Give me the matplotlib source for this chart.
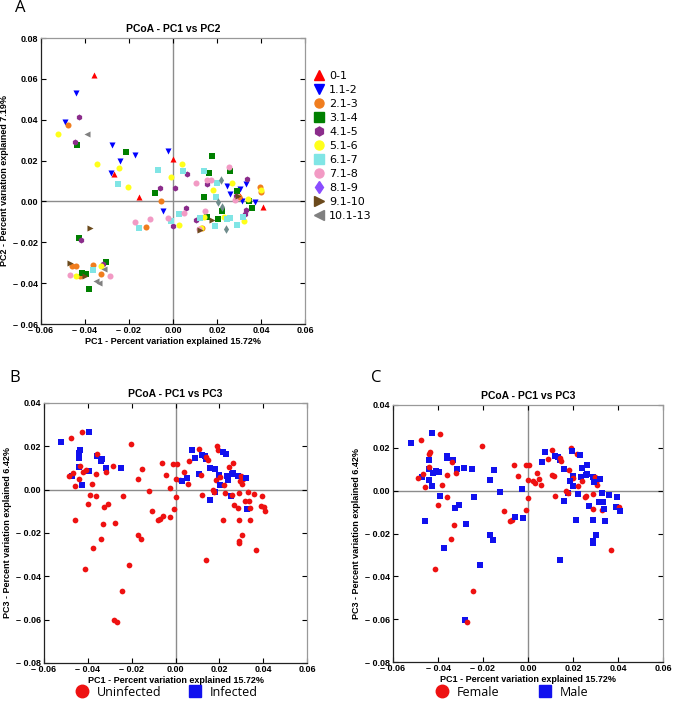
import matplotlib
matplotlib.use('Agg')
import matplotlib.pyplot as plt
from matplotlib.ticker import FuncFormatter, MultipleLocator
from matplotlib.lines import Line2D

# ---------------- Panel A data (PC1 vs PC2, by age group) ----------------
age_labels = ['0-1', '1.1-2', '2.1-3', '3.1-4', '4.1-5', '5.1-6', '6.1-7',
              '7.1-8', '8.1-9', '9.1-10', '10.1-13']

g01_x = [-0.0361, -0.0270, -0.0156, -0.0002, 0.0306, 0.0411]
g01_y = [0.0621, 0.0136, 0.0021, 0.0210, 0.0028, -0.0028]

g12_x = [-0.0439, -0.0491, -0.0276, -0.0241, -0.0171, -0.0282, -0.0024, -0.0044,
         0.0244, 0.0258, 0.0306, 0.0314, 0.0333, 0.0371]
g12_y = [0.0531, 0.0390, 0.0275, 0.0197, 0.0225, 0.0138, 0.0246, -0.0049,
         0.0075, 0.0034, 0.0059, 0.0000, 0.0085, -0.0003]

g23_x = [-0.0477, -0.0055, -0.0121, 0.0132, 0.0394, 0.0402, 0.0300,
         -0.0459, -0.0442, -0.0364, -0.0326, -0.0424]
g23_y = [0.0374, 0.0000, -0.0125, -0.0131, 0.0069, 0.0046, 0.0024,
         -0.0315, -0.0318, -0.0313, -0.0357, -0.0367]

g34_x = [-0.0436, -0.0212, -0.0082, 0.0176, 0.0162, 0.0259, 0.0141, 0.0153,
         0.0205, 0.0224, 0.0291, 0.0345, 0.0361, -0.0429, -0.0414, -0.0397,
         -0.0306, -0.0383]
g34_y = [0.0275, 0.0241, 0.0041, 0.0221, 0.0139, 0.0149, 0.0021, -0.0074,
         -0.0085, -0.0046, 0.0049, 0.0002, -0.0033, -0.0180, -0.0351, -0.0354,
         -0.0298, -0.0431]

g45_x = [-0.0426, -0.0445, -0.0417, -0.0061, 0.0011, 0.0002, 0.0062, 0.0058,
         0.0106, 0.0156, 0.0285, 0.0330, 0.0336, 0.0327, -0.0318]
g45_y = [0.0411, 0.0290, -0.0189, 0.0066, 0.0066, -0.0118, 0.0134, -0.0030,
         -0.0092, 0.0085, 0.0025, -0.0041, 0.0110, -0.0062, -0.0307]

g56_x = [-0.0523, -0.0344, -0.0245, -0.0206, -0.0008, 0.0027, 0.0041, 0.0129,
         0.0182, 0.0230, 0.0268, 0.0323, 0.0342, 0.0402, 0.0142, -0.0442, -0.0329]
g56_y = [0.0330, 0.0182, 0.0166, 0.0070, 0.0120, -0.0116, 0.0182, -0.0131,
         0.0056, -0.0075, 0.0092, -0.0098, 0.0011, 0.0057, -0.0077, -0.0364, -0.0315]

g67_x = [-0.0248, -0.0070, 0.0044, 0.0141, -0.0008, 0.0027, -0.0153, 0.0123,
         0.0191, 0.0194, 0.0200, 0.0245, 0.0261, 0.0291, 0.0318, -0.0364]
g67_y = [0.0087, 0.0152, 0.0151, 0.0149, -0.0097, -0.0061, -0.0130, -0.0082,
         -0.0118, 0.0023, 0.0090, -0.0087, -0.0082, -0.0115, -0.0077, -0.0338]

g78_x = [-0.0171, -0.0106, -0.0023, 0.0050, 0.0106, 0.0117, 0.0147, 0.0173,
         0.0256, 0.0283, -0.0470, -0.0288, 0.0153]
g78_y = [-0.0102, -0.0087, -0.0082, -0.0059, 0.0090, -0.0134, -0.0048, 0.0103,
         0.0169, 0.0008, -0.0359, -0.0364, 0.0107]

g89_x = [0.0217, 0.0205, 0.0224, 0.0239]
g89_y = [0.0105, -0.0002, -0.0025, -0.0134]

g910_x = [-0.0379, -0.0468, -0.0402, 0.0124, 0.0176, 0.0295]
g910_y = [-0.0131, -0.0300, -0.0367, -0.0139, -0.0092, 0.0028]

g1013_x = [-0.0391, -0.0315, -0.0348, -0.0338]
g1013_y = [0.0328, -0.0333, -0.0390, -0.0398]

age_colors = ['#ff0000', '#0000ff', '#f07d1e', '#008000', '#8b2c8b', '#ffff1a',
              '#80e5e5', '#f29ac4', '#8a4dff', '#6b4a1c', '#808080']
age_markers = ['^', 'v', 'o', 's', 'h', 'o', 's', 'o', 'd', '>', '<']

# ---------------- Panels B/C data (PC1 vs PC3) ----------------
pc1 = [-0.0521, -0.0393, -0.0425, -0.0476, -0.0442, -0.0436, -0.0440, -0.0440,
       -0.0472, -0.0427, -0.0395, -0.0358, -0.0360, -0.0335, -0.0338, -0.0315,
       -0.0248, -0.0488, -0.0466, -0.0458, -0.0459, -0.0442, -0.0438, -0.0423,
       -0.0409, -0.0392, -0.0400, -0.0382, -0.0361, -0.0361, -0.0375, -0.0415,
       -0.0341, -0.0329, -0.0325, -0.0318, -0.0307, -0.0286, -0.0276, -0.0282,
       -0.0269, -0.0243, -0.0241, -0.0212, -0.0204, -0.0171, -0.0169, -0.0156,
       -0.0153, -0.0123, -0.0107, -0.0080, -0.0071, -0.0061, -0.0056, -0.0045,
       -0.0026, -0.0024, -0.0010, 0.0006, 0.0000, -0.0008, 0.0002, 0.0020,
       0.0029, 0.0051, 0.0039, 0.0059, 0.0060, 0.0074, 0.0087, 0.0107,
       0.0107, 0.0115, 0.0120, 0.0122, 0.0133, 0.0140, 0.0141, 0.0147,
       0.0159, 0.0180, 0.0158, 0.0178, 0.0170, 0.0176, 0.0189, 0.0194,
       0.0217, 0.0229, 0.0198, 0.0202, 0.0185, 0.0202, 0.0235, 0.0239,
       0.0256, 0.0263, 0.0242, 0.0262, 0.0224, 0.0253, 0.0215, 0.0257,
       0.0269, 0.0287, 0.0290, 0.0289, 0.0287, 0.0298, 0.0308, 0.0305,
       0.0295, 0.0320, 0.0331, 0.0317, 0.0335, 0.0328, 0.0338, 0.0341,
       0.0358, 0.0395, 0.0392, 0.0406, 0.0408, 0.0302, 0.0290, 0.0291,
       0.0367, 0.0140, 0.0222]
pc3 = [0.0222, 0.0265, 0.0268, 0.0238, 0.0169, 0.0182, 0.0145, 0.0103,
       0.0065, 0.0022, 0.0085, 0.0154, 0.0163, 0.0142, 0.0132, 0.0102,
       0.0100, 0.0061, 0.0077, 0.0015, -0.0140, 0.0051, 0.0110, 0.0083,
       0.0092, -0.0023, -0.0068, 0.0025, 0.0074, -0.0028, -0.0269, -0.0365,
       -0.0227, -0.0158, -0.0080, 0.0081, -0.0068, 0.0108, -0.0154, -0.0602,
       -0.0612, -0.0469, -0.0031, -0.0349, 0.0209, 0.0048, -0.0209, -0.0229,
       0.0096, -0.0005, -0.0097, -0.0142, -0.0137, 0.0122, -0.0121, 0.0070,
       0.0008, -0.0126, 0.0118, 0.0118, -0.0035, -0.0088, 0.0049, 0.0046,
       0.0038, 0.0055, 0.0082, 0.0028, 0.0132, 0.0182, 0.0146, 0.0188,
       0.0074, 0.0069, -0.0026, 0.0162, 0.0155, 0.0142, 0.0152, 0.0138,
       0.0100, 0.0097, -0.0046, -0.0010, -0.0002, -0.0011, 0.0200, 0.0184,
       0.0172, 0.0165, 0.0068, 0.0058, 0.0045, 0.0022, 0.0062, 0.0046,
       0.0074, 0.0077, 0.0105, 0.0122, -0.0017, -0.0031, -0.0138, -0.0023,
       -0.0072, -0.0086, -0.0138, -0.0015, 0.0062, 0.0065, 0.0051, 0.0026,
       0.0042, 0.0054, -0.0012, -0.0054, -0.0054, -0.0088, -0.0086, -0.0140,
       -0.0020, -0.0031, -0.0074, -0.0078, -0.0097, -0.0208, -0.0236, -0.0246,
       -0.0277, -0.0326, 0.0022]
infected = [1, 1, 0, 0, 1, 1, 1, 1, 1, 1, 1, 1, 0, 1, 1, 1,
            1, 0, 0, 0, 0, 0, 0, 0, 0, 0, 0, 0, 0, 0, 0, 0,
            0, 0, 0, 0, 0, 0, 0, 0, 0, 0, 0, 0, 0, 0, 0, 0,
            0, 0, 0, 0, 0, 0, 0, 0, 0, 0, 0, 0, 0, 0, 0, 0,
            1, 1, 0, 0, 0, 1, 1, 0, 1, 0, 0, 1, 1, 1, 0, 0,
            1, 1, 1, 1, 0, 0, 0, 0, 1, 1, 1, 0, 0, 1, 1, 1,
            1, 1, 0, 0, 0, 1, 0, 0, 0, 0, 0, 0, 1, 0, 0, 0,
            0, 1, 0, 0, 0, 1, 0, 0, 0, 0, 0, 0, 0, 0, 0, 0,
            0, 0, 0]
sex = ['M', 'F', 'M', 'F', 'F', 'F', 'M', 'M', 'M', 'M', 'M', 'M', 'M', 'M', 'F', 'M',
       'M', 'F', 'F', 'F', 'M', 'M', 'F', 'M', 'M', 'M', 'F', 'F', 'F', 'F', 'M', 'F',
       'F', 'F', 'M', 'F', 'M', 'M', 'M', 'M', 'F', 'F', 'M', 'M', 'F', 'M', 'M', 'M',
       'M', 'M', 'F', 'F', 'F', 'F', 'M', 'F', 'M', 'M', 'F', 'F', 'F', 'F', 'F', 'F',
       'F', 'F', 'F', 'F', 'M', 'M', 'F', 'F', 'F', 'F', 'F', 'M', 'M', 'M', 'F', 'F',
       'M', 'F', 'M', 'M', 'F', 'F', 'F', 'M', 'F', 'M', 'M', 'F', 'M', 'M', 'M', 'F',
       'M', 'M', 'M', 'M', 'M', 'F', 'M', 'F', 'M', 'F', 'M', 'F', 'M', 'F', 'F', 'F',
       'M', 'M', 'M', 'M', 'M', 'F', 'M', 'M', 'M', 'M', 'M', 'F', 'M', 'M', 'M', 'M',
       'F', 'M', 'F']

infection_labels = ['Uninfected', 'Infected']
sex_labels = ['Female', 'Male']

x_label = 'PC1 - Percent variation explained 15.72%'
y_label_a = 'PC2 - Percent variation explained 7.19%'
y_label_bc = 'PC3 - Percent variation explained 6.42%'

RED = '#ee1111'
BLUE = '#1111ee'
TICKFONT = 'Liberation Sans'


def fmt(v, pos):
    if abs(v) < 1e-9:
        return '0.00'
    return ('\u2013 ' if v < 0 else '') + f'{abs(v):.2f}'


def style(ax, ylim, title, ylabel):
    ax.set_xlim(-0.06, 0.06)
    ax.set_ylim(*ylim)
    ax.xaxis.set_major_locator(MultipleLocator(0.02))
    ax.yaxis.set_major_locator(MultipleLocator(0.02))
    ax.xaxis.set_major_formatter(FuncFormatter(fmt))
    ax.yaxis.set_major_formatter(FuncFormatter(fmt))
    ax.tick_params(direction='in', top=True, right=True, length=3.5, width=0.8,
                   labelsize=6.5, colors='black')
    ax.tick_params(axis='x', pad=1.5)
    ax.tick_params(axis='y', pad=2)
    for lab in ax.get_xticklabels() + ax.get_yticklabels():
        lab.set_fontweight('bold')
        lab.set_family(TICKFONT)
    ax.axhline(0, color='#8c8c8c', lw=1.0, zorder=0)
    ax.axvline(0, color='#8c8c8c', lw=1.0, zorder=0)
    for s in ['left', 'bottom']:
        ax.spines[s].set_color('#222222')
        ax.spines[s].set_linewidth(0.9)
    for s in ['top', 'right']:
        ax.spines[s].set_color('#999999')
        ax.spines[s].set_linewidth(0.9)
    ax.set_title(title, fontsize=7.5, fontweight='bold', family=TICKFONT, pad=4)
    ax.set_xlabel(x_label, fontsize=6.5, fontweight='bold', family=TICKFONT, labelpad=1.5)
    ax.set_ylabel(ylabel, fontsize=6.5, fontweight='bold', family=TICKFONT, labelpad=3)


fig = plt.figure(figsize=(6.74, 7.12), dpi=100)

# ---------- Panel A ----------
axA = fig.add_axes([41 / 674, 1 - 324 / 712, 264 / 674, 286 / 712])
groups_x = [g01_x, g12_x, g23_x, g34_x, g45_x, g56_x, g67_x, g78_x, g89_x, g910_x, g1013_x]
groups_y = [g01_y, g12_y, g23_y, g34_y, g45_y, g56_y, g67_y, g78_y, g89_y, g910_y, g1013_y]
plot_colors = list(age_colors)
plot_colors[8] = '#6f8c8c'
for gx, gy, c, m in zip(groups_x, groups_y, plot_colors, age_markers):
    axA.scatter(gx, gy, s=19, c=c, marker=m, linewidths=0, zorder=3)
style(axA, (-0.06, 0.08), 'PCoA - PC1 vs PC2', y_label_a)

handles = [Line2D([], [], ls='none', marker=m, color=c, markersize=6.5)
           for c, m in zip(age_colors, age_markers)]
fig.legend(handles, age_labels, loc='upper left', bbox_to_anchor=(313 / 674, 1 - 71 / 712),
           frameon=False, fontsize=8, handlelength=1.0, handletextpad=0.45,
           labelspacing=0.36, borderaxespad=0, borderpad=0)

# ---------- Panel B ----------
axB = fig.add_axes([44 / 674, 1 - 663 / 712, 263 / 674, 260 / 712])
colB = [BLUE if i else RED for i in infected]
mkB = ['s' if i else 'o' for i in infected]
for x, y, c, m in zip(pc1, pc3, colB, mkB):
    axB.scatter([x], [y], s=17 if m == 'o' else 19, c=c, marker=m, linewidths=0, zorder=3)
style(axB, (-0.08, 0.04), 'PCoA - PC1 vs PC3', y_label_bc)

# ---------- Panel C ----------
axC = fig.add_axes([393 / 674, 1 - 662 / 712, 270 / 674, 257 / 712])
colC = [BLUE if s == 'M' else RED for s in sex]
mkC = ['s' if s == 'M' else 'o' for s in sex]
for x, y, c, m in zip(pc1, pc3, colC, mkC):
    axC.scatter([x], [y], s=17 if m == 'o' else 19, c=c, marker=m, linewidths=0, zorder=3)
style(axC, (-0.08, 0.04), 'PCoA - PC1 vs PC3', y_label_bc)


# ---------- bottom legends (one entry each) ----------
def legend_entry(label, marker, color, x_px, y_px):
    h = [Line2D([], [], ls='none', marker=marker, color=color, markersize=9)]
    fig.legend(h, [label], loc='center left',
               bbox_to_anchor=(x_px / 674, 1 - y_px / 712),
               frameon=False, handlelength=0.9, handletextpad=0.75,
               borderaxespad=0, borderpad=0,
               prop={'family': 'Open Sans', 'size': 9})

LEG_Y = 692
legend_entry(infection_labels[0], 'o', RED, 76, LEG_Y)
legend_entry(infection_labels[1], 's', BLUE, 189, LEG_Y)
legend_entry(sex_labels[0], 'o', RED, 436, LEG_Y)
legend_entry(sex_labels[1], 's', BLUE, 539, LEG_Y)

# ---------- panel letters ----------
fig.text(15 / 674, 1 - 8 / 712, 'A', fontsize=12, family='Open Sans', va='center')
fig.text(9 / 674, 1 - 378 / 712, 'B', fontsize=12, family='Open Sans', va='center')
fig.text(371 / 674, 1 - 378 / 712, 'C', fontsize=12, family='Open Sans', va='center')

fig.savefig('out.png', dpi=100)
